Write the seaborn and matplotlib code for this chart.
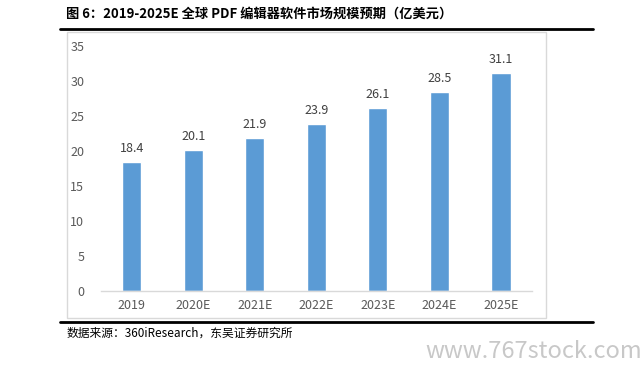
import pandas as pd
import matplotlib.pyplot as plt
import seaborn as sns
from matplotlib.patches import Rectangle
from matplotlib.lines import Line2D

# Data
years = ["2019", "2020E", "2021E", "2022E", "2023E", "2024E", "2025E"]
market = [18.4, 20.1, 21.9, 23.9, 26.1, 28.5, 31.1]
df = pd.DataFrame({"year": years, "value": market})

sns.set_style("white")
plt.rcParams['font.family'] = ['Noto Sans CJK SC', 'DejaVu Sans']

fig = plt.figure(figsize=(6.43, 3.68), dpi=100)

# Outer chart frame
fig.patches.append(Rectangle((0.104, 0.136), 0.745, 0.777, transform=fig.transFigure,
                             fill=False, edgecolor="#D9D9D9", linewidth=1.0))
# Black rules
fig.lines.append(Line2D([0.093, 0.923], [0.921, 0.921], transform=fig.transFigure,
                        color="black", linewidth=2))
fig.lines.append(Line2D([0.093, 0.923], [0.125, 0.125], transform=fig.transFigure,
                        color="black", linewidth=2))

ax = fig.add_axes([0.157, 0.209, 0.670, 0.666])
sns.barplot(data=df, x="year", y="value", color="#5B9BD5", width=0.31,
            saturation=1, ax=ax)

for i, v in enumerate(market):
    ax.text(i, v + 1.0, f"{v}", ha="center", va="bottom", fontsize=9, color="#404040")

ax.set_ylim(0, 35)
ax.set_yticks(range(0, 36, 5))
ax.set_xlim(-0.5, 6.5)
ax.set_xlabel("")
ax.set_ylabel("")
ax.tick_params(axis="both", length=0, labelsize=9, labelcolor="#595959")
ax.tick_params(axis="y", pad=12)
ax.tick_params(axis="x", pad=6)
for s in ["top", "right", "left"]:
    ax.spines[s].set_visible(False)
ax.spines["bottom"].set_color("#D9D9D9")
ax.spines["bottom"].set_linewidth(1)

fig.text(0.103, 0.962, "图 6：2019-2025E 全球 PDF 编辑器软件市场规模预期（亿美元）",
         fontsize=9.5, fontweight="bold", va="center", ha="left", color="black")
fig.text(0.104, 0.095, "数据来源：360iResearch，东吴证券研究所",
         fontsize=8.5, va="center", ha="left", color="black")
fig.text(0.998, 0.045, "www.767stock.com", fontsize=17, color="#C8C8C8",
         va="center", ha="right")

plt.savefig("out.png", dpi=100)
